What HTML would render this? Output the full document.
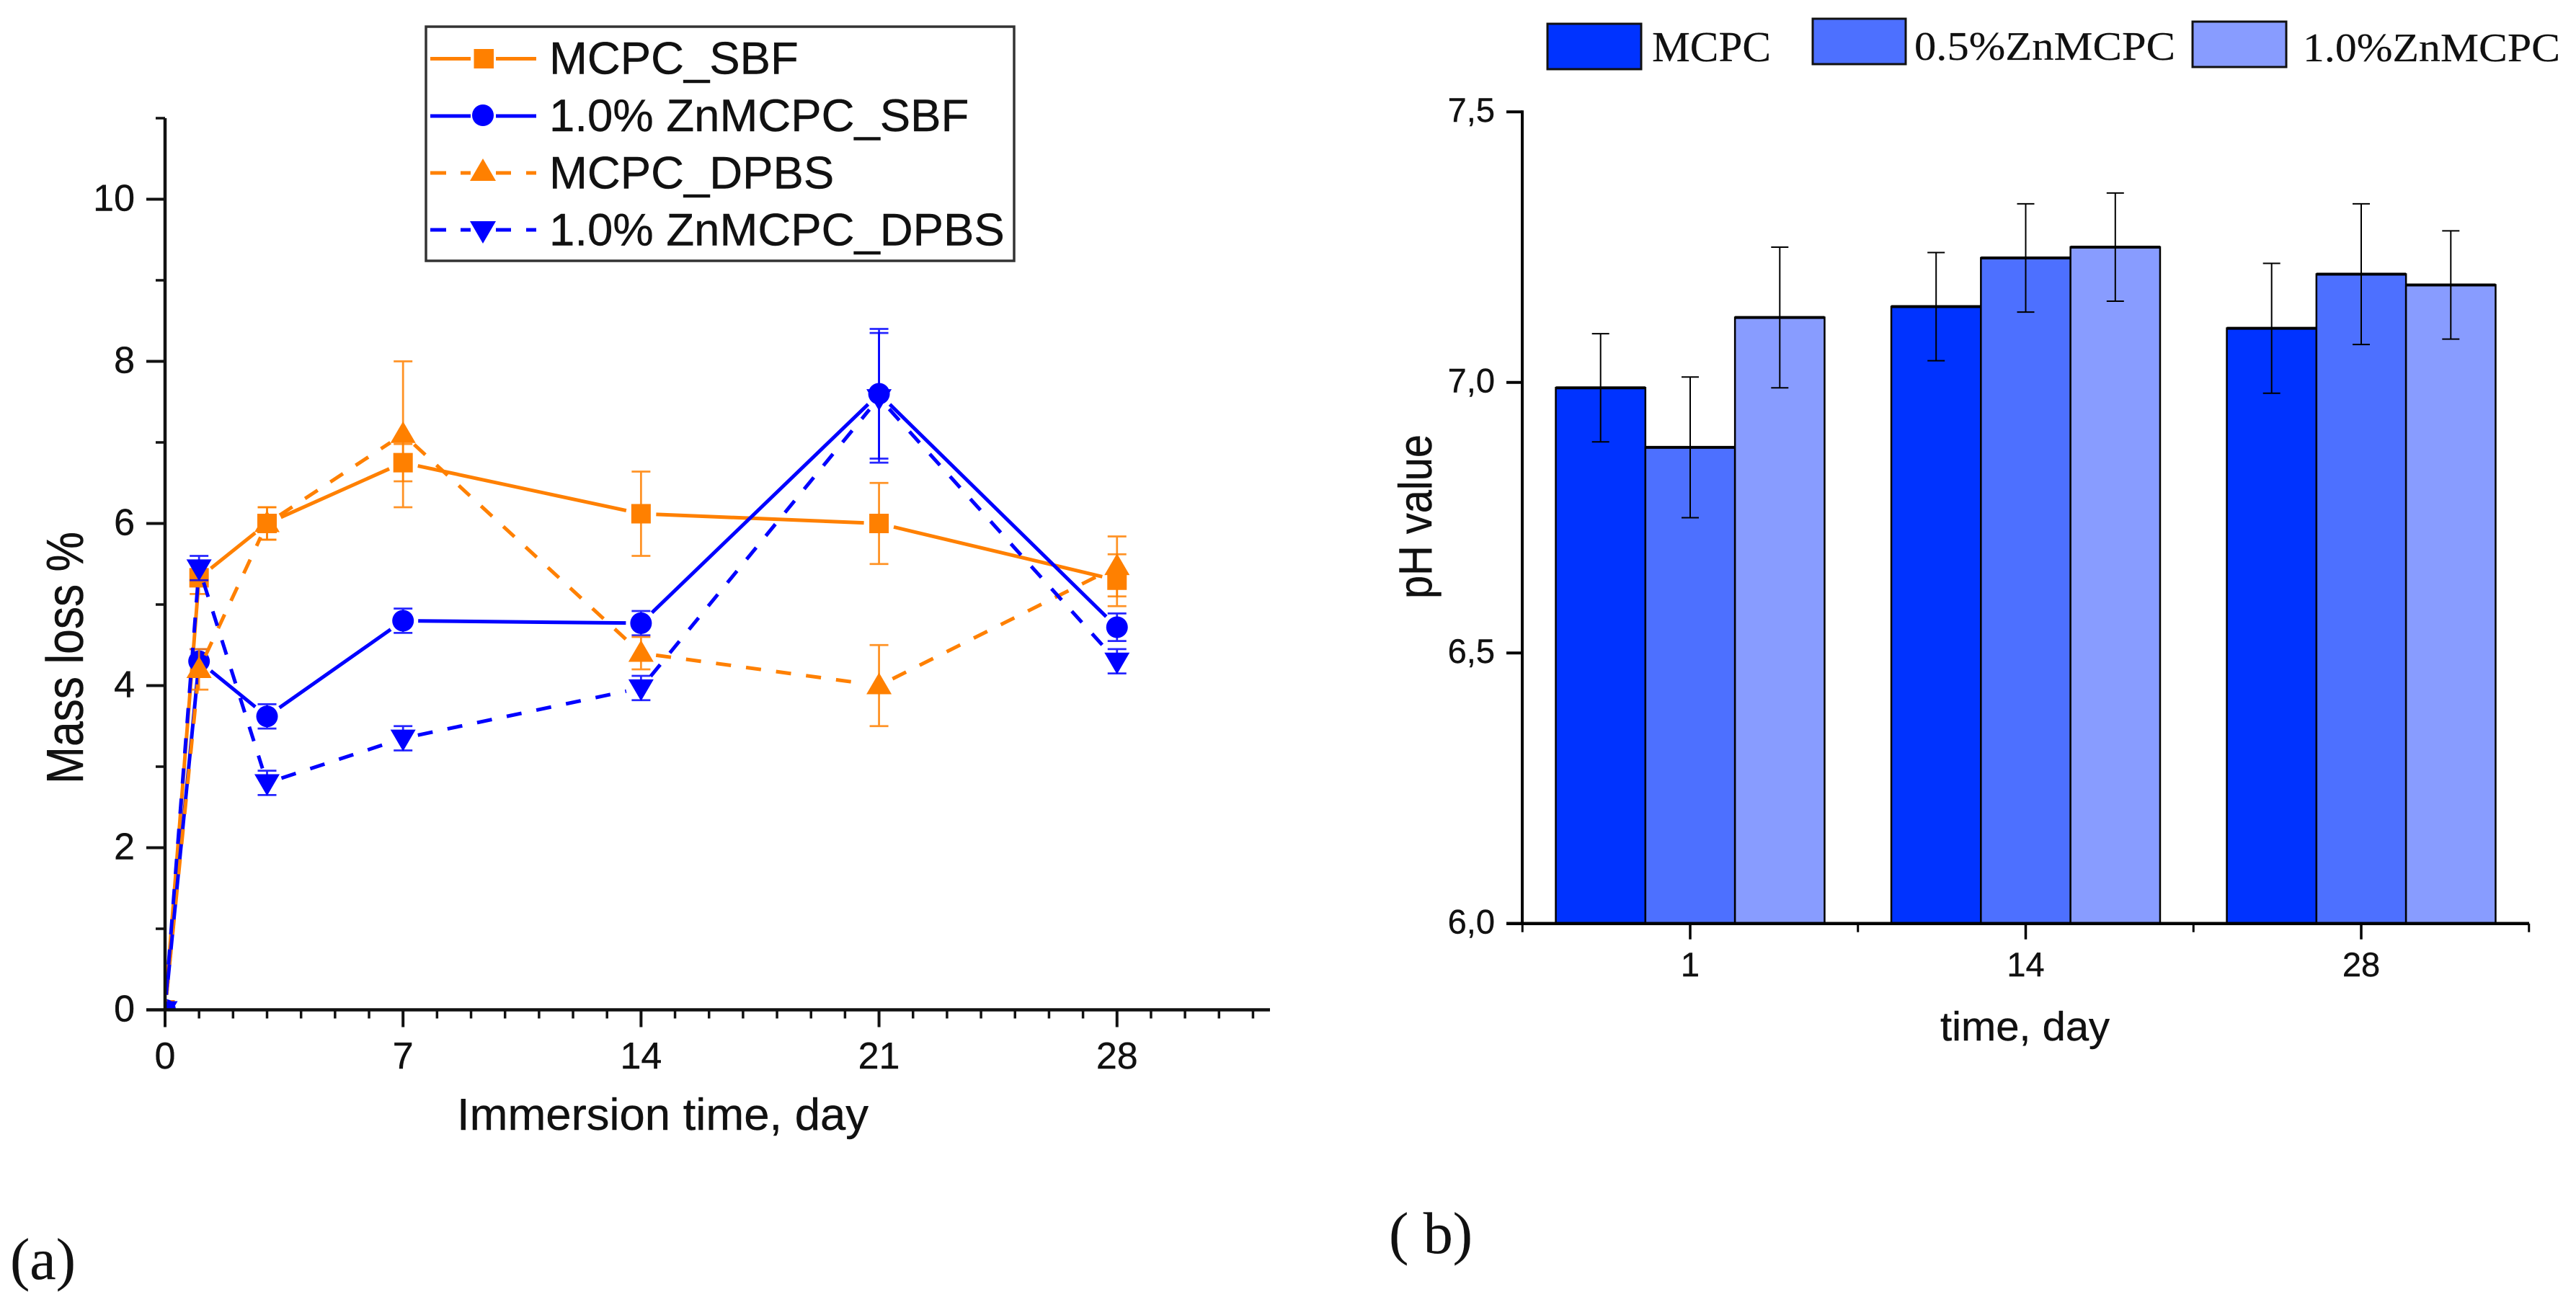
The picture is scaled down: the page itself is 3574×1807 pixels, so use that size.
<!DOCTYPE html>
<html lang="en">
<head>
<meta charset="utf-8">
<title>Mass loss and pH value charts</title>
<style>
html,body{margin:0;padding:0;background:#fff;width:3574px;height:1807px;overflow:hidden}
svg{display:block}
text{fill:#111;stroke:#111;stroke-width:.4;font-family:"Liberation Sans",sans-serif}
.serif{font-family:"Liberation Serif",serif;stroke-width:.2}
</style>
</head>
<body>
<svg id="fig" xmlns="http://www.w3.org/2000/svg" width="3574" height="1807" viewBox="0 0 3574 1807">
  <defs>
    <clipPath id="plot-a-clip"><rect x="229" y="100" width="1540" height="1301"/></clipPath>
  </defs>
  <g id="chart-a"></g>
  <g id="chart-b"></g>

  <g>
    <rect x="591" y="37" width="816" height="325" fill="#fff" stroke="#333" stroke-width="3.5"/>
    <g>
      <path d="M597 81.5H653M688 81.5H744" stroke="#ff8000" stroke-width="5" fill="none"/>
      <rect x="657.5" y="68" width="27.5" height="27" fill="#ff8000"/>
      <text x="762" y="102.7" font-size="63.5">MCPC_SBF</text>
    </g>
    <g>
      <path d="M597 161H653M688 161H744" stroke="#0000ff" stroke-width="5" fill="none"/>
      <circle cx="670" cy="160" r="15" fill="#0000ff"/>
      <text x="762" y="182" font-size="63.5">1.0% ZnMCPC_SBF</text>
    </g>
    <g>
      <path d="M597 240H619M639 240H653M688 240H709M730 240H744" stroke="#ff8000" stroke-width="5" fill="none"/>
      <polygon points="670,220 688,251 652,251" fill="#ff8000"/>
      <text x="762" y="261.7" font-size="63.5">MCPC_DPBS</text>
    </g>
    <g>
      <path d="M597 319H619M639 319H653M688 319H709M730 319H744" stroke="#0000ff" stroke-width="5" fill="none"/>
      <polygon points="670,338 688,307 652,307" fill="#0000ff"/>
      <text x="762" y="340.7" font-size="63.5">1.0% ZnMCPC_DPBS</text>
    </g>
  </g>

  <text x="0" y="0" transform="translate(115,1088) rotate(-90) scale(1,1.16)" font-size="62" textLength="350" lengthAdjust="spacingAndGlyphs">Mass loss %</text>
  <text x="634" y="1568" font-size="62" textLength="571" lengthAdjust="spacingAndGlyphs">Immersion time, day</text>
  <text class="serif" x="14" y="1775" font-size="82">(a)</text>

  <g>
    <g>
      <rect x="2147" y="33" width="130" height="63" fill="#0033ff" stroke="#111" stroke-width="3"/>
      <text class="serif" x="2292" y="85" font-size="59" textLength="165" lengthAdjust="spacingAndGlyphs">MCPC</text>
    </g>
    <g>
      <rect x="2515" y="26" width="129" height="63" fill="#4d70ff" stroke="#111" stroke-width="3"/>
      <text class="serif" x="2656" y="83" font-size="56" textLength="362" lengthAdjust="spacingAndGlyphs">0.5%ZnMCPC</text>
    </g>
    <g>
      <rect x="3042" y="30" width="130" height="63" fill="#889cff" stroke="#111" stroke-width="3"/>
      <text class="serif" x="3195" y="85" font-size="56" textLength="357" lengthAdjust="spacingAndGlyphs">1.0%ZnMCPC</text>
    </g>
  </g>

  <text x="0" y="0" transform="translate(1986,831) rotate(-90) scale(1,1.14)" font-size="57" textLength="228" lengthAdjust="spacingAndGlyphs">pH value</text>
  <text x="2692" y="1444" font-size="57" textLength="235" lengthAdjust="spacingAndGlyphs">time, day</text>
  <text class="serif" x="1927" y="1739" font-size="82">( b)</text>
</svg>

<script>
/* ---------- Chart (a) data ---------- */
const days = [0, 1, 3, 7, 14, 21, 28];
const mcpcSbf = [0, 5.33, 6.0, 6.75, 6.12, 6.0, 5.3];
const mcpcSbfErr = [0, 0.2, 0.2, 0.23, 0.52, 0.5, 0.32];
const znSbf = [0, 4.3, 3.62, 4.8, 4.77, 7.6, 4.72];
const znSbfErr = [0, 0.15, 0.15, 0.15, 0.15, 0.8, 0.17];
const mcpcDpbs = [0, 4.2, 6.0, 7.1, 4.4, 4.0, 5.47];
const mcpcDpbsErr = [0, 0.25, 0.2, 0.9, 0.2, 0.5, 0.37];
const znDpbs = [0, 5.45, 2.8, 3.35, 3.97, 7.55, 4.3];
const znDpbsErr = [0, 0.15, 0.15, 0.15, 0.15, 0.8, 0.15];
const aXTicks = [0, 7, 14, 21, 28];
const aYTicks = [0, 2, 4, 6, 8, 10];

/* ---------- Chart (b) data ---------- */
const categories = ['1', '14', '28'];
const phMcpc = [6.99, 7.14, 7.10];
const phMcpcErr = [0.10, 0.10, 0.12];
const phZn05 = [6.88, 7.23, 7.20];
const phZn05Err = [0.13, 0.10, 0.13];
const phZn10 = [7.12, 7.25, 7.18];
const phZn10Err = [0.13, 0.10, 0.10];
const bYTicks = ['6,0', '6,5', '7,0', '7,5'];
const bYTickValues = [6.0, 6.5, 7.0, 7.5];

/* ---------- Axis functions ---------- */
const xA = d => 229 + d * 47.17;
const yA = v => 1401.5 - v * 112.5;
const xB = c => 2345 + c * 465.5;
const yB = v => 1281.7 - (v - 6) * 751;

const NS = 'http://www.w3.org/2000/svg';
function mk(parent, tag, attrs, text) {
  const el = document.createElementNS(NS, tag);
  for (const k in attrs) el.setAttribute(k, attrs[k]);
  if (text !== undefined) el.textContent = text;
  parent.appendChild(el);
  return el;
}

/* ---------- Draw chart (a) ---------- */
const chartA = document.getElementById('chart-a');
const ORANGE = '#ff8000', BLUE = '#0000ff';

const plotA = mk(chartA, 'g', {'clip-path': 'url(#plot-a-clip)'});



function drawMarker(g, kind, x, y, color) {
  let m;
  if (kind === 'square') m = mk(g, 'rect', {x: x - 13.5, y: y - 13.5, width: 27, height: 27, fill: color});
  if (kind === 'circle') m = mk(g, 'circle', {cx: x, cy: y, r: 15, fill: color});
  if (kind === 'up') m = mk(g, 'polygon', {points: `${x},${y - 18} ${x + 17.5},${y + 12} ${x - 17.5},${y + 12}`, fill: color});
  if (kind === 'down') m = mk(g, 'polygon', {points: `${x},${y + 18} ${x + 17.5},${y - 12} ${x - 17.5},${y - 12}`, fill: color});
  
  
}

function drawSeries(name, vals, errs, color, kind, dashed) {
  const g = mk(plotA, 'g', {});
  
  
  const GAP = 21;
  for (let i = 0; i + 1 < days.length; i++) {
    const x1 = xA(days[i]), y1 = yA(vals[i]), x2 = xA(days[i + 1]), y2 = yA(vals[i + 1]);
    const len = Math.hypot(x2 - x1, y2 - y1);
    const ux = (x2 - x1) / len, uy = (y2 - y1) / len;
    const attrs = {x1: x1 + ux * GAP, y1: y1 + uy * GAP, x2: x2 - ux * GAP, y2: y2 - uy * GAP, stroke: color, 'stroke-width': 5};
    if (dashed) attrs['stroke-dasharray'] = '21 21';
    const seg = mk(g, 'line', attrs);
    
    
  }
  days.forEach((d, i) => {
    const x = xA(d);
    if (errs[i] > 0) {
      const t = yA(vals[i] + errs[i]), b = yA(vals[i] - errs[i]);
      const bar = mk(g, 'path', {d: `M${x - 13} ${t}H${x + 13}M${x} ${t}V${b}M${x - 13} ${b}H${x + 13}`, stroke: color, 'stroke-width': 2.8, fill: 'none', opacity: 0.85});
      
      
    }
    drawMarker(g, kind, x, yA(vals[i]), color);
  });
}
drawSeries('series-mcpc-sbf', mcpcSbf, mcpcSbfErr, ORANGE, 'square', false);
drawSeries('series-znmcpc-sbf', znSbf, znSbfErr, BLUE, 'circle', false);
drawSeries('series-mcpc-dpbs', mcpcDpbs, mcpcDpbsErr, ORANGE, 'up', true);
drawSeries('series-znmcpc-dpbs', znDpbs, znDpbsErr, BLUE, 'down', true);

const axisAY = mk(chartA, 'g', {stroke: '#111', fill: 'none'});


mk(axisAY, 'line', {x1: 229, x2: 229, y1: yA(11), y2: yA(0) + 2, 'stroke-width': 4.5});
for (let v = 1; v <= 11; v += 2) {
  mk(axisAY, 'line', {x1: 216, x2: 229, y1: yA(v), y2: yA(v), 'stroke-width': 3.5});
}
aYTicks.forEach(v => {
  mk(axisAY, 'line', {x1: 203, x2: 229, y1: yA(v), y2: yA(v), 'stroke-width': 4});
  const t = mk(chartA, 'text', {x: 187, y: yA(v) + 16, 'text-anchor': 'end', 'font-size': 52}, String(v));
  
  
});

const axisAX = mk(chartA, 'g', {stroke: '#111', fill: 'none'});


mk(axisAX, 'line', {x1: 203, x2: 1762, y1: yA(0), y2: yA(0), 'stroke-width': 4.5});
for (let d = 1; d <= 32; d++) {
  mk(axisAX, 'line', {x1: xA(d), x2: xA(d), y1: yA(0), y2: yA(0) + 12, 'stroke-width': 3.5});
}
aXTicks.forEach(d => {
  mk(axisAX, 'line', {x1: xA(d), x2: xA(d), y1: yA(0), y2: yA(0) + 24, 'stroke-width': 4});
  const t = mk(chartA, 'text', {x: xA(d), y: 1483, 'text-anchor': 'middle', 'font-size': 52}, String(d));
  
  
});

/* ---------- Draw chart (b) ---------- */
const chartB = document.getElementById('chart-b');
const BAR_W = 124.3;
const barSeries = [
  {name: 'mcpc', vals: phMcpc, errs: phMcpcErr, fill: '#0033ff', off: -1},
  {name: '05-znmcpc', vals: phZn05, errs: phZn05Err, fill: '#4d70ff', off: 0},
  {name: '10-znmcpc', vals: phZn10, errs: phZn10Err, fill: '#889cff', off: 1}
];
barSeries.forEach(s => {
  categories.forEach((c, i) => {
    const cx = xB(i) + s.off * BAR_W;
    const bar = mk(chartB, 'rect', {x: cx - BAR_W / 2, y: yB(s.vals[i]), width: BAR_W, height: yB(6) - yB(s.vals[i]), fill: s.fill, stroke: '#000', 'stroke-width': 2.5});
    
    
    mk(chartB, 'line', {x1: cx - BAR_W / 2, x2: cx + BAR_W / 2, y1: yB(s.vals[i]), y2: yB(s.vals[i]), stroke: '#000', 'stroke-width': 4});
  });
});
barSeries.forEach(s => {
  categories.forEach((c, i) => {
    const cx = xB(i) + s.off * BAR_W;
    const t = yB(s.vals[i] + s.errs[i]), b = yB(s.vals[i] - s.errs[i]);
    const err = mk(chartB, 'path', {d: `M${cx - 12} ${t}H${cx + 12}M${cx} ${t}V${b}M${cx - 12} ${b}H${cx + 12}`, stroke: '#000', 'stroke-width': 2, fill: 'none'});
    
    
  });
});

const axisBY = mk(chartB, 'g', {stroke: '#000', fill: 'none'});


mk(axisBY, 'line', {x1: 2112, x2: 2112, y1: yB(7.5) - 2, y2: yB(6), 'stroke-width': 4});
bYTickValues.forEach((v, i) => {
  mk(axisBY, 'line', {x1: 2090, x2: 2112, y1: yB(v), y2: yB(v), 'stroke-width': 4});
  const t = mk(chartB, 'text', {x: 2074, y: yB(v) + 14, 'text-anchor': 'end', 'font-size': 47}, bYTicks[i]);
  
  
});

const axisBX = mk(chartB, 'g', {stroke: '#000', fill: 'none'});


mk(axisBX, 'line', {x1: 2090, x2: 3509, y1: yB(6), y2: yB(6), 'stroke-width': 4.5});
for (let i = 0; i <= 3; i++) {
  const x = xB(i - 0.5);
  mk(axisBX, 'line', {x1: x, x2: x, y1: yB(6), y2: yB(6) + 12, 'stroke-width': 3});
}
categories.forEach((c, i) => {
  mk(axisBX, 'line', {x1: xB(i), x2: xB(i), y1: yB(6), y2: yB(6) + 22, 'stroke-width': 3.5});
  const t = mk(chartB, 'text', {x: xB(i), y: 1355, 'text-anchor': 'middle', 'font-size': 47}, c);
  
  
});
</script>
</body>
</html>
